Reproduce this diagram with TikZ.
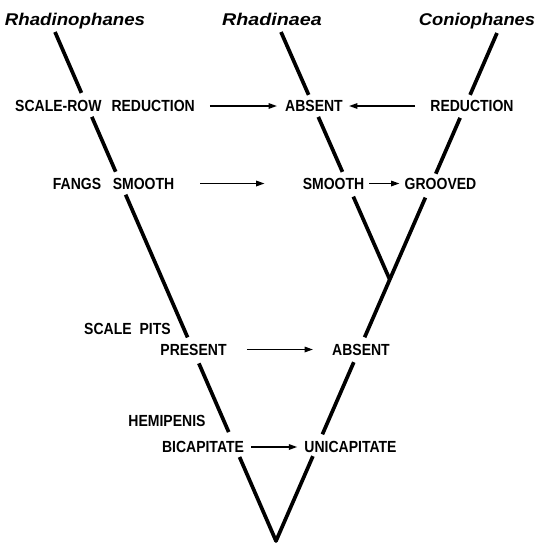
\documentclass[tikz,border=0pt]{standalone}
\usepackage{fontspec}
\setmainfont{Liberation Sans}
\usetikzlibrary{arrows.meta,calc}
\newcommand\tallcaps[1]{\scalebox{1}[1.15]{#1}}
\begin{document}
\begin{tikzpicture}[x=1pt,y=-1pt,
  branch/.style={line width=3.7pt},
  arr/.style={line width=1.6pt,-{Triangle[length=8.5pt,width=5.5pt]}},
  lab/.style={inner sep=0pt,font=\fontsize{14}{16}\selectfont\bfseries},
  taxon/.style={inner sep=0pt,anchor=base,font=\fontsize{17}{20}\selectfont\bfseries\itshape}]
\path[use as bounding box] (0,0) rectangle (537,547);
% taxa
\node[taxon] (tRp) at (75,25) {\scalebox{1.1}[1]{Rhadinophanes}};
\node[taxon] (tRa) at (272,25) {\scalebox{1.16}[1]{Rhadinaea}};
\node[taxon] (tCo) at (477,25) {\scalebox{1.08}[1]{Coniophanes}};
% labels
\node[lab] (srr) at (105,106) {\tallcaps{SCALE-ROW\hspace{10pt}REDUCTION}};
\node[lab] (abs1) at (314,106) {\tallcaps{ABSENT}};
\node[lab] (red) at (472,106) {\tallcaps{REDUCTION}};
\node[lab] (fangs) at (77,183.5) {\tallcaps{FANGS}};
\node[lab] (sm1) at (143.5,183.5) {\tallcaps{SMOOTH}};
\node[lab] (sm2) at (333.5,183.5) {\tallcaps{SMOOTH}};
\node[lab] (gro) at (440.5,183.5) {\tallcaps{GROOVED}};
\node[lab] (pits) at (127.5,329) {\tallcaps{SCALE\hspace{8pt}PITS}};
\node[lab] (pres) at (193.5,349.5) {\tallcaps{PRESENT}};
\node[lab] (abs2) at (361,349.5) {\tallcaps{ABSENT}};
\node[lab] (hemi) at (167,421) {\tallcaps{HEMIPENIS}};
\node[lab] (bic) at (203,447) {\tallcaps{BICAPITATE}};
\node[lab] (uni) at (350.5,447) {\tallcaps{UNICAPITATE}};
% arrows
\draw[arr] ([xshift=15pt]srr.east) -- ([xshift=-8pt]abs1.west);
\draw[arr] ([xshift=-15pt]red.west) -- ([xshift=6pt]abs1.east);
\draw[arr] ([xshift=26pt]sm1.east) -- ([xshift=-38pt]sm2.west);
\draw[arr] ([xshift=5pt]sm2.east) -- ([xshift=-5pt]gro.west);
\draw[arr] ([xshift=20pt]pres.east) -- ([xshift=-19pt]abs2.west);
\draw[arr] ([xshift=7pt]bic.east) -- ([xshift=-7pt]uni.west);
% branches
\coordinate (Lt) at (55,32);
\coordinate (root) at (276,541);
\coordinate (Rt) at (281,32);
\coordinate (Ct) at (497,33);
\coordinate (J) at ($(Ct)!0.4853!(root)$);
\foreach \a/\b in {0/0.1196, 0.1667/0.2745, 0.3196/0.6, 0.651/0.786}
  \draw[branch] ($(Lt)!\a!(root)$) -- ($(Lt)!\b!(root)$);
\foreach \a/\b in {0/0.1218, 0.167/0.277, 0.324/0.599, 0.648/0.790}
  \draw[branch] ($(Ct)!\a!(root)$) -- ($(Ct)!\b!(root)$);
\foreach \a/\b in {0/0.254, 0.343/0.565, 0.665/1}
  \draw[branch] ($(Rt)!\a!(J)$) -- ($(Rt)!\b!(J)$);
\draw[branch,line join=round] ($(Lt)!0.835!(root)$) -- (root) -- ($(Ct)!0.833!(root)$);
\end{tikzpicture}
\end{document}
